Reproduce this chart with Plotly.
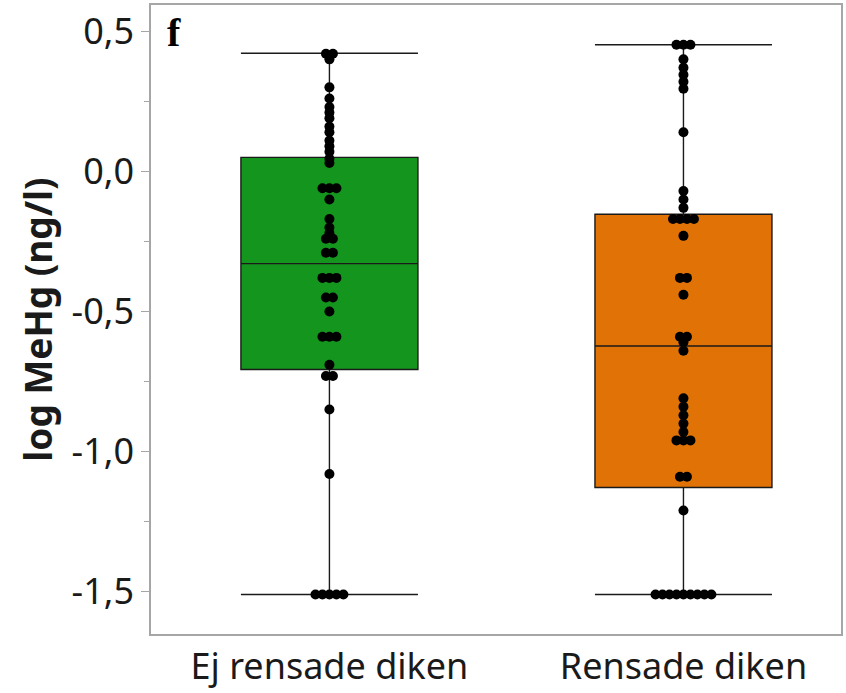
import plotly.graph_objects as go

categories = ["Ej rensade diken", "Rensade diken"]
box_colors = ["#14961E", "#E17306"]

# box statistics (log MeHg, ng/l)
q1 = [-0.707, -1.128]
median = [-0.329, -0.623]
q3 = [0.050, -0.153]
lowerfence = [-1.510, -1.510]
upperfence = [0.422, 0.452]

# individual observations
ej_rensade = [0.42, 0.42, 0.40, 0.30,
              0.26, 0.23, 0.21, 0.19, 0.16, 0.14, 0.11, 0.09, 0.07, 0.045, 0.03,
              -0.06, -0.06, -0.06, -0.10, -0.17, -0.20, -0.22, -0.24, -0.24,
              -0.29, -0.29, -0.38, -0.38, -0.38, -0.45, -0.45, -0.50,
              -0.59, -0.59, -0.59, -0.69, -0.73, -0.73, -0.85, -1.08,
              -1.51, -1.51, -1.51, -1.51, -1.51]
rensade = [0.452, 0.452, 0.452, 0.40, 0.37, 0.345, 0.32, 0.295, 0.14,
           -0.07, -0.10, -0.13, -0.17, -0.17, -0.17, -0.17, -0.23,
           -0.38, -0.38, -0.44, -0.59, -0.59, -0.61, -0.64,
           -0.81, -0.84, -0.87, -0.90, -0.93, -0.96, -0.96, -0.96,
           -1.09, -1.09, -1.21,
           -1.51, -1.51, -1.51, -1.51, -1.51, -1.51, -1.51, -1.51, -1.51]
series = [ej_rensade, rensade]

y_ticks = [-1.5, -1.0, -0.5, 0.0, 0.5]
y_tick_labels = ["-1,5", "-1,0", "-0,5", "0,0", "0,5"]

X_RANGE = [-0.504, 1.445]
Y_RANGE = [-1.651, 0.594]
PX_PER_X = 355.0   # approx pixel per x-unit for spreading equal values
DOT_SPACING = 7.0  # px between dots with identical value

fig = go.Figure()
for i, cat in enumerate(categories):
    fig.add_trace(go.Box(
        x=[i], q1=[q1[i]], median=[median[i]], q3=[q3[i]],
        lowerfence=[lowerfence[i]], upperfence=[upperfence[i]],
        width=0.5, whiskerwidth=1, boxpoints=False,
        fillcolor=box_colors[i], line=dict(color="#1a1a1a", width=1.4),
        name=cat, showlegend=False, hoverinfo="skip"))

for i, vals in enumerate(series):
    counts = {}
    for v in vals:
        counts[v] = counts.get(v, 0) + 1
    seen = {}
    xs, ys = [], []
    for v in vals:
        k = seen.get(v, 0)
        seen[v] = k + 1
        off = (k - (counts[v] - 1) / 2.0) * DOT_SPACING / PX_PER_X
        xs.append(i + off)
        ys.append(v)
    fig.add_trace(go.Scatter(x=xs, y=ys, mode="markers",
                             marker=dict(color="black", size=10),
                             showlegend=False, hoverinfo="y"))

fig.update_layout(
    width=846, height=693,
    margin=dict(l=151, r=3, t=5, b=57),
    plot_bgcolor="white", paper_bgcolor="white",
    font=dict(family="Noto Sans", color="#1a1a1a"),
)
fig.update_xaxes(range=X_RANGE, tickmode="array", tickvals=[0, 1], ticktext=categories,
                 ticks="", showgrid=False, zeroline=False,
                 showline=True, mirror=True, linecolor="#a6a6a6", linewidth=1.5,
                 tickfont=dict(size=36, family="Noto Sans", color="#1a1a1a"))
fig.update_yaxes(range=Y_RANGE, tickmode="array", tickvals=y_ticks, ticktext=y_tick_labels,
                 ticks="outside", ticklen=8, tickcolor="#a6a6a6", tickwidth=1.2,
                 minor=dict(tickmode="array", tickvals=[-1.25, -0.75, -0.25, 0.25],
                            ticks="outside", ticklen=5, tickcolor="#a6a6a6"),
                 showgrid=False, zeroline=False,
                 showline=True, mirror=True, linecolor="#a6a6a6", linewidth=1.5,
                 tickfont=dict(size=36, family="Noto Sans", color="#1a1a1a"),
                 title=dict(text="<b>log MeHg (ng/l)</b>", standoff=8,
                            font=dict(size=37, family="Noto Sans", color="#1a1a1a")))
fig.add_annotation(xref="paper", yref="paper", x=0.02, y=0.995, xanchor="left", yanchor="top",
                   text="<b>f</b>", showarrow=False,
                   font=dict(family="Liberation Serif", size=40, color="black"))

fig.write_html("out.html")
